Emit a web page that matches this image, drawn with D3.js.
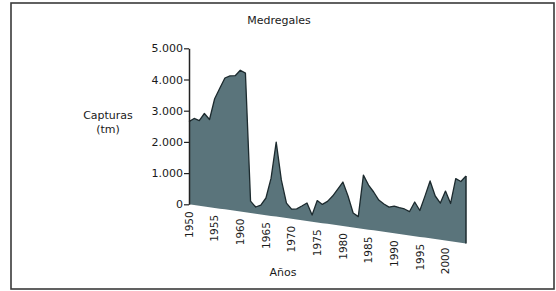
<!DOCTYPE html>
<html>
<head>
<meta charset="utf-8">
<script src="https://cdn.jsdelivr.net/npm/d3@7"></script>
<style>
  html, body { margin: 0; padding: 0; background: #fff; }
  svg { display: block; }
  text { font-family: "DejaVu Sans", Verdana, sans-serif; fill: #1a1a1a; }
</style>
</head>
<body>
<svg id="chart" width="556" height="291"></svg>
<script>
// ---- data ----
const years = [1950,1951,1952,1953,1954,1955,1956,1957,1958,1959,
               1960,1961,1962,1963,1964,1965,1966,1967,1968,1969,
               1970,1971,1972,1973,1974,1975,1976,1977,1978,1979,
               1980,1981,1982,1983,1984,1985,1986,1987,1988,1989,
               1990,1991,1992,1993,1994,1995,1996,1997,1998,1999,
               2000,2001,2002,2003,2004];
const capturas = [2650,2775,2730,2980,2810,3500,3860,4210,4300,4330,
                  4530,4460,380,215,300,550,1210,2390,1200,480,
                  310,340,455,575,215,700,600,720,915,1160,
                  1410,985,465,370,1725,1430,1230,995,890,815,
                  870,845,825,765,1095,845,1330,1840,1380,1175,
                  1585,1210,2030,1960,2160];
const yTicks = [0,1000,2000,3000,4000,5000];
const xTickYears = [1950,1955,1960,1965,1970,1975,1980,1985,1990,1995,2000];
const title = "Medregales";
const yTitle = ["Capturas", "(tm)"];
const xTitle = "Años";

const svg = d3.select("#chart");

// frame
svg.append("rect")
  .attr("x", 11).attr("y", 3).attr("width", 543).attr("height", 286)
  .attr("fill", "none").attr("stroke", "#3a3a3a").attr("stroke-width", 1.6);

// scales
const x = d3.scaleLinear().domain([1950, 2004]).range([189, 466]);
const floorY = d3.scaleLinear().domain([1950, 2004]).range([204.3, 243.4]);
const yAxisScale = d3.scaleLinear().domain([0, 5000]).range([204.3, 48.3]);
const h = v => yAxisScale(0) - yAxisScale(v);

const data = years.map((yr, i) => ({year: yr, value: capturas[i]}));

// area
const area = d3.area()
  .x(d => x(d.year))
  .y0(d => floorY(d.year))
  .y1(d => floorY(d.year) - h(d.value));
svg.append("path")
  .datum(data)
  .attr("d", area)
  .attr("fill", "#5a747b");

// top outline + right edge
const line = d3.line()
  .x(d => x(d.year))
  .y(d => floorY(d.year) - h(d.value));
svg.append("path")
  .datum(data)
  .attr("d", line)
  .attr("fill", "none")
  .attr("stroke", "#1c2a2e")
  .attr("stroke-width", 1.3)
  .attr("stroke-linejoin", "round");
const last = data[data.length - 1];
svg.append("line")
  .attr("x1", x(last.year)).attr("x2", x(last.year))
  .attr("y1", floorY(last.year) - h(last.value)).attr("y2", floorY(last.year))
  .attr("stroke", "#1c2a2e").attr("stroke-width", 1.5);

// y axis
const loc = d3.formatLocale({decimal: ",", thousands: ".", grouping: [3], currency: ["", ""]});
const fmt = loc.format(",d");
const yAxis = d3.axisLeft(yAxisScale)
  .tickValues(yTicks)
  .tickFormat(fmt)
  .tickSize(5)
  .tickSizeOuter(0)
  .tickPadding(1);
const gy = svg.append("g")
  .attr("transform", "translate(189,0)")
  .call(yAxis);
gy.select(".domain").attr("stroke", "#222").attr("stroke-width", 1.5);
gy.selectAll(".tick line").attr("stroke", "#222").attr("stroke-width", 1.2);
gy.selectAll(".tick text")
  .style("font-family", '"DejaVu Sans", Verdana, sans-serif')
  .style("font-size", "11px").attr("fill", "#1a1a1a");

// x labels along sloped floor
svg.append("g").selectAll("text")
  .data(xTickYears)
  .join("text")
  .attr("transform", d => `translate(${x(d)},${floorY(d) + 7}) rotate(-90)`)
  .attr("text-anchor", "end")
  .attr("dy", "0.35em")
  .style("font-size", "10.5px")
  .text(d => d);

// titles
svg.append("text")
  .attr("x", 279).attr("y", 24)
  .attr("text-anchor", "middle")
  .style("font-size", "11px")
  .text(title);

svg.append("text")
  .attr("x", 108).attr("y", 119)
  .attr("text-anchor", "middle")
  .style("font-size", "11px")
  .selectAll("tspan")
  .data(yTitle)
  .join("tspan")
  .attr("x", 108)
  .attr("dy", (d, i) => i === 0 ? 0 : 14)
  .text(d => d);

svg.append("text")
  .attr("x", 283).attr("y", 276)
  .attr("text-anchor", "middle")
  .style("font-size", "11px")
  .text(xTitle);
</script>
</body>
</html>
